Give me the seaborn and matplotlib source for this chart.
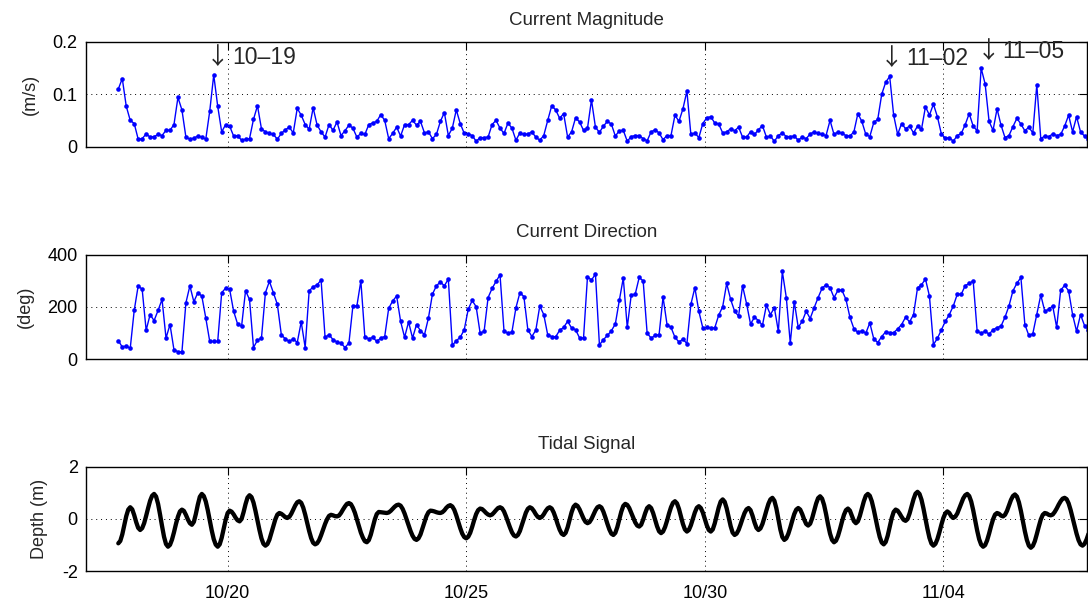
import numpy as np
import pandas as pd
import matplotlib
matplotlib.use("Agg")
import matplotlib.pyplot as plt
import seaborn as sns

sns.set_style("white")
plt.rcParams["font.family"] = ["Liberation Sans", "DejaVu Sans"]
plt.rcParams["axes.unicode_minus"] = False

# ---------------- data ----------------
start_time = "2010-10-17 17:00"

magnitude = [
    0.11, 0.13, 0.077, 0.05, 0.044, 0.014, 0.015, 0.024, 0.018, 0.019,
    0.023, 0.021, 0.031, 0.031, 0.042, 0.094, 0.07, 0.018, 0.014, 0.016,
    0.02, 0.018, 0.014, 0.068, 0.137, 0.077, 0.028, 0.042, 0.039, 0.02,
    0.021, 0.012, 0.014, 0.015, 0.052, 0.078, 0.034, 0.028, 0.025, 0.023,
    0.014, 0.025, 0.032, 0.037, 0.026, 0.073, 0.06, 0.042, 0.033, 0.074,
    0.041, 0.028, 0.018, 0.042, 0.031, 0.047,
    0.021, 0.03, 0.041, 0.035, 0.018, 0.025, 0.023, 0.042, 0.045, 0.048,
    0.061, 0.05, 0.015, 0.025, 0.037, 0.02, 0.042, 0.042, 0.05, 0.041,
    0.048, 0.026, 0.028, 0.015, 0.023, 0.048, 0.065, 0.021, 0.035, 0.07,
    0.044, 0.025, 0.024, 0.021, 0.01, 0.017, 0.017, 0.018, 0.042, 0.05,
    0.035, 0.025, 0.045, 0.035, 0.012, 0.026, 0.023, 0.024, 0.028, 0.018,
    0.012, 0.021, 0.05, 0.078, 0.07, 0.054, 0.063, 0.018, 0.028, 0.055, 0.047, 0.031,
    0.035, 0.089, 0.037, 0.027, 0.039, 0.048, 0.043, 0.02, 0.03, 0.031,
    0.01, 0.019, 0.021, 0.021, 0.015, 0.011, 0.028, 0.032, 0.026, 0.013,
    0.021, 0.021, 0.06, 0.048, 0.072, 0.106, 0.023, 0.026, 0.017, 0.044,
    0.055, 0.057, 0.045, 0.043, 0.026, 0.028, 0.034, 0.03, 0.037, 0.018,
    0.018, 0.028, 0.023, 0.032, 0.04, 0.018, 0.02, 0.01, 0.021, 0.026,
    0.019, 0.019, 0.02, 0.012, 0.018, 0.015, 0.024, 0.028, 0.025, 0.023, 0.021, 0.05, 0.023,
    0.028, 0.025, 0.021, 0.02, 0.028, 0.063, 0.048, 0.023, 0.019, 0.046,
    0.052, 0.1, 0.123, 0.134, 0.06, 0.023, 0.044, 0.034, 0.039, 0.026,
    0.039, 0.033, 0.076, 0.06, 0.081, 0.057, 0.024, 0.016, 0.017, 0.01,
    0.021, 0.025, 0.042, 0.063, 0.039, 0.03, 0.15, 0.12, 0.048, 0.031,
    0.072, 0.041, 0.017, 0.021, 0.038, 0.054, 0.043, 0.03, 0.037, 0.026,
    0.118, 0.015, 0.02, 0.019, 0.024, 0.021, 0.023, 0.039, 0.06, 0.028, 0.057, 0.028, 0.02, 0.014,
]

direction = [
    70, 46, 50, 41, 186, 280, 267, 110, 170, 147,
    186, 228, 80, 132, 35, 28, 27, 215, 280, 219,
    254, 241, 157, 67, 67, 67, 254, 271, 267, 183,
    134, 125, 261, 228, 44, 72, 80, 254, 297, 254,
    209, 93, 77, 67, 77, 63, 142, 44, 261, 276,
    284, 302, 83, 93, 74, 65,
    61, 44, 61, 203, 203, 299, 86, 77, 83, 67,
    80, 86, 194, 222, 241, 144, 83, 142, 80, 132,
    108, 93, 157, 248, 280, 295, 280, 306, 52, 70,
    83, 112, 190, 224, 200, 99, 106, 235, 270, 297,
    322, 108, 98, 104, 196, 254, 239, 112, 86, 110,
    203, 170, 92, 86, 85, 110, 121, 144, 119, 112, 81, 80,
    315, 302, 325, 54, 74, 90, 108, 134, 224, 310,
    121, 245, 248, 312, 299, 99, 80, 90, 93, 237,
    132, 121, 83, 65, 76, 59, 209, 273, 183, 119,
    121, 119, 119, 168, 200, 289, 228, 183, 164, 280,
    212, 134, 160, 147, 129, 206, 170, 196, 106, 335,
    235, 61, 220, 121, 144, 183, 155, 196, 235, 271, 284, 273, 235,
    263, 263, 228, 160, 116, 102, 108, 99, 138, 77,
    63, 86, 104, 101, 101, 115, 132, 160, 142, 170,
    272, 284, 306, 241, 55, 79, 112, 144, 170, 203,
    248, 248, 281, 289, 299, 106, 99, 106, 95, 112,
    120, 126, 160, 203, 261, 290, 312, 132, 90, 97,
    170, 245, 183, 190, 203, 121, 263, 282, 261, 170, 106, 170, 128, 112,
]

tide = [
    -0.94, -0.85, -0.60, -0.25, 0.10, 0.35, 0.44, 0.36, 0.14, -0.13,
    -0.35, -0.43, -0.36, -0.17, 0.11, 0.41, 0.69, 0.88, 0.95, 0.85,
    0.57, 0.16, -0.28, -0.69, -0.97, -1.07, -1.00, -0.80, -0.52, -0.20,
    0.08, 0.28, 0.35, 0.30, 0.15, -0.03, -0.17, -0.23, -0.12, 0.18,
    0.54, 0.84, 0.95, 0.87, 0.66, 0.33, -0.06, -0.45, -0.78, -0.99,
    -1.07, -0.98, -0.73, -0.38, -0.04, 0.22, 0.31, 0.27, 0.17, 0.04,
    -0.06, -0.10, -0.01, 0.25, 0.56, 0.81, 0.90, 0.83, 0.62, 0.30,
    -0.07, -0.43, -0.75, -0.96, -1.03, -0.97, -0.80, -0.54, -0.27, -0.02,
    0.16, 0.22, 0.19, 0.13, 0.06, 0.03, 0.07, 0.19, 0.35, 0.51,
    0.63, 0.67, 0.61, 0.43, 0.16, -0.16, -0.47, -0.74, -0.92, -0.98,
    -0.94, -0.82, -0.63, -0.42, -0.20, -0.02, 0.11, 0.15, 0.13, 0.10,
    0.09, 0.12, 0.22, 0.35, 0.47, 0.57, 0.60, 0.56, 0.42, 0.23,
    -0.02, -0.28, -0.53, -0.72, -0.86, -0.90, -0.82, -0.61, -0.32, -0.03,
    0.18, 0.26, 0.25, 0.24, 0.23, 0.22, 0.24, 0.30, 0.38, 0.46,
    0.52, 0.54, 0.50, 0.38, 0.20, -0.02, -0.25, -0.47, -0.65, -0.77,
    -0.81, -0.75, -0.60, -0.37, -0.13, 0.10, 0.25, 0.31, 0.30, 0.28,
    0.25, 0.23, 0.22, 0.25, 0.32, 0.42, 0.49, 0.52, 0.47, 0.34,
    0.13, -0.12, -0.36, -0.57, -0.70, -0.75, -0.69, -0.54, -0.31, -0.05,
    0.18, 0.33, 0.39, 0.37, 0.30, 0.22, 0.16, 0.13, 0.16, 0.24,
    0.33, 0.41, 0.44, 0.40, 0.28, 0.09, -0.12, -0.33, -0.52, -0.64,
    -0.68, -0.62, -0.47, -0.24, 0.00, 0.23, 0.38, 0.44, 0.40, 0.30,
    0.17, 0.07, 0.03, 0.07, 0.17, 0.30, 0.40, 0.44, 0.39, 0.24,
    0.03, -0.21, -0.42, -0.57, -0.62, -0.54, -0.33, -0.04, 0.25, 0.46,
    0.54, 0.49, 0.36, 0.19, 0.01, -0.12, -0.17, -0.13, -0.01, 0.16,
    0.32, 0.44, 0.48, 0.43, 0.27, 0.05, -0.19, -0.41, -0.57, -0.62,
    -0.54, -0.32, -0.03, 0.27, 0.49, 0.57, 0.53, 0.41, 0.23, 0.04,
    -0.14, -0.26, -0.30, -0.23, -0.03, 0.21, 0.41, 0.48, 0.41, 0.22,
    -0.04, -0.29, -0.48, -0.55, -0.49, -0.32, -0.08, 0.20, 0.44, 0.61,
    0.67, 0.59, 0.38, 0.09, -0.20, -0.41, -0.49, -0.43, -0.25, 0.00,
    0.24, 0.42, 0.48, 0.41, 0.24, 0.00, -0.25, -0.43, -0.49, -0.41,
    -0.18, 0.13, 0.43, 0.66, 0.74, 0.65, 0.40, 0.06, -0.28, -0.53,
    -0.62, -0.57, -0.43, -0.22, 0.01, 0.22, 0.36, 0.41, 0.33, 0.12,
    -0.14, -0.35, -0.43, -0.37, -0.20, 0.05, 0.32, 0.57, 0.74, 0.80,
    0.69, 0.40, 0.00, -0.41, -0.70, -0.81, -0.75, -0.58, -0.34, -0.07,
    0.18, 0.35, 0.41, 0.35, 0.18, -0.03, -0.20, -0.26, -0.19, 0.02,
    0.30, 0.58, 0.79, 0.86, 0.77, 0.53, 0.18, -0.22, -0.57, -0.81,
    -0.90, -0.84, -0.66, -0.40, -0.11, 0.15, 0.33, 0.39, 0.31, 0.11,
    -0.09, -0.17, -0.10, 0.11, 0.39, 0.67, 0.88, 0.95, 0.88, 0.67,
    0.35, -0.02, -0.38, -0.70, -0.91, -0.98, -0.89, -0.65, -0.32, 0.02,
    0.26, 0.35, 0.31, 0.20, 0.07, -0.04, -0.08, -0.01, 0.20, 0.48,
    0.75, 0.96, 1.03, 0.95, 0.73, 0.39, 0.00, -0.39, -0.73, -0.95,
    -1.03, -0.96, -0.78, -0.52, -0.23, 0.03, 0.21, 0.28, 0.22, 0.09,
    0.03, 0.08, 0.20, 0.39, 0.59, 0.78, 0.90, 0.95, 0.87, 0.66,
    0.33, -0.06, -0.45, -0.78, -0.99, -1.07, -1.01, -0.83, -0.57, -0.28,
    -0.02, 0.16, 0.22, 0.19, 0.12, 0.09, 0.15, 0.30, 0.51, 0.72,
    0.87, 0.93, 0.85, 0.63, 0.30, -0.09, -0.48, -0.81, -1.03, -1.11,
    -1.04, -0.86, -0.59, -0.30, -0.03, 0.15, 0.22, 0.20, 0.15, 0.13,
    0.16, 0.26, 0.39, 0.54, 0.67, 0.77, 0.80, 0.75, 0.59, 0.34,
    0.04, -0.27, -0.57, -0.82, -0.98, -1.03, -0.96, -0.80, -0.58,
]

tick_dates = ["2010-10-20", "2010-10-25", "2010-10-30", "2010-11-04"]
tick_labels = ["10/20", "10/25", "10/30", "11/04"]

titles = ["Current Magnitude", "Current Direction", "Tidal Signal"]
ylabels = ["(m/s)", "(deg)", "Depth (m)"]
ylims = [(0, 0.2), (0, 400), (-2, 2)]
yticks = [[0, 0.1, 0.2], [0, 200, 400], [-2, 0, 2]]
yticklabels = [["0", "0.1", "0.2"], ["0", "200", "400"], ["-2", "0", "2"]]

event_labels = ["10\u201319", "11\u201302", "11\u201305"]
event_times = ["2010-10-19 16:20", "2010-11-02 19:00", "2010-11-04 19:40"]
event_y = [0.170, 0.168, 0.182]

# ---------------- frames ----------------
t2 = pd.date_range(start_time, periods=len(magnitude), freq="2h")
t1 = pd.date_range(start_time, periods=len(tide), freq="1h")
df_cur = pd.DataFrame({"time": t2, "mag": magnitude, "dir": direction})
df_tide = pd.DataFrame({"time": t1, "depth": tide})

# ---------------- figure ----------------
fig = plt.figure(figsize=(10.88, 6.06), dpi=100)
L, W, H = 86 / 1088, 1001 / 1088, 104.5 / 606
bottoms = [1 - 146.5 / 606, 1 - 359 / 606, 1 - 571 / 606]
axes = [fig.add_axes([L, b, W, H]) for b in bottoms]

blue = "#0000ff"
sns.lineplot(data=df_cur, x="time", y="mag", ax=axes[0], color=blue, linewidth=1.0,
             marker="o", markersize=3.3, markeredgewidth=0, errorbar=None)
sns.lineplot(data=df_cur, x="time", y="dir", ax=axes[1], color=blue, linewidth=1.0,
             marker="o", markersize=3.3, markeredgewidth=0, errorbar=None)
sns.lineplot(data=df_tide, x="time", y="depth", ax=axes[2], color="black",
             linewidth=3.1, errorbar=None)

xmin = pd.Timestamp("2010-10-17 00:45")
xmax = pd.Timestamp("2010-11-07 00:15")
ticks = [pd.Timestamp(d) for d in tick_dates]

for k, ax in enumerate(axes):
    ax.set_xlim(xmin, xmax)
    ax.set_ylim(*ylims[k])
    ax.set_yticks(yticks[k])
    ax.set_yticklabels(yticklabels[k], fontsize=13)
    ax.set_xticks(ticks)
    if k == 2:
        ax.set_xticklabels(tick_labels, fontsize=13)
    else:
        ax.set_xticklabels([])
    ax.set_xlabel("")
    ax.set_ylabel(ylabels[k], fontsize=13, labelpad=10)
    ax.set_title(titles[k], fontsize=13.5, pad=12.5)
    ax.grid(True, color="black", linestyle=(0, (1, 4)), linewidth=0.7)
    ax.tick_params(direction="in", top=True, right=True, length=5.5, width=0.8,
                   colors="black")
    ax.tick_params(axis="x", pad=10)
    ax.tick_params(axis="y", pad=6)
    for s in ax.spines.values():
        s.set_color("black")
        s.set_linewidth(1.0)

for lab, tt, yy in zip(event_labels, event_times, event_y):
    x = pd.Timestamp(tt)
    axes[0].annotate("\u2193", xy=(x, yy), xytext=(-4.5, 0), textcoords="offset points",
                     fontsize=17, ha="left", va="center",
                     family=["Noto Sans CJK SC", "DejaVu Sans"])
    axes[0].annotate(lab, xy=(x, yy), xytext=(14.5, 0), textcoords="offset points",
                     fontsize=16.5, ha="left", va="center")

fig.savefig("out.png", dpi=100)
